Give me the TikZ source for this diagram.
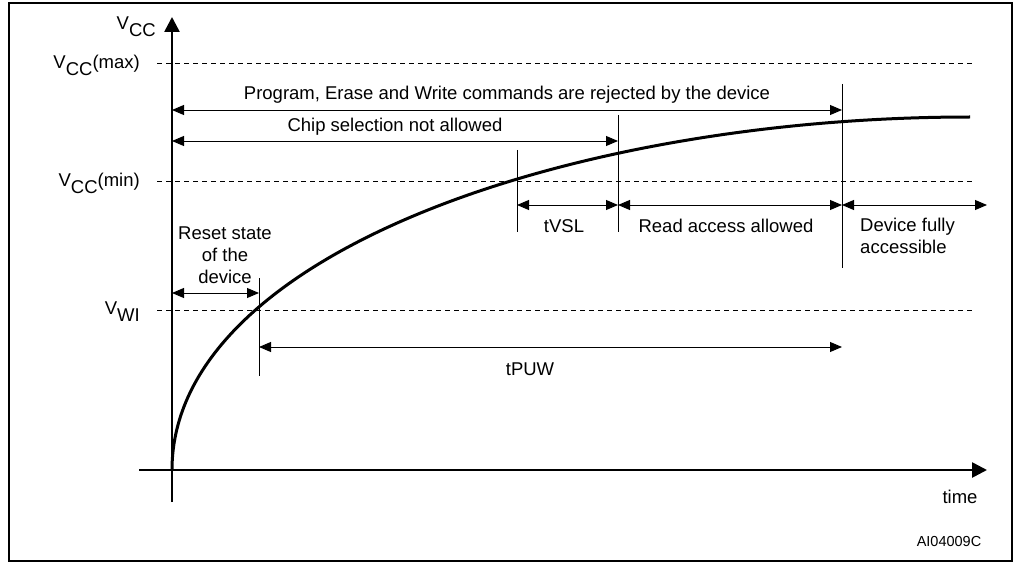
\documentclass[tikz,border=0pt]{standalone}
\usepackage{fontspec}
\setmainfont{Liberation Sans}
\usetikzlibrary{arrows.meta}
\begin{document}
\begin{tikzpicture}[x=1pt,y=-1pt,
  lbl/.style={font=\fontsize{18.5}{22}\selectfont, inner sep=0pt},
  dim/.style={line width=0.9pt, {Triangle[length=12pt,width=10pt]}-{Triangle[length=12pt,width=10pt]}},
  thin/.style={line width=0.9pt},
  lev/.style={line width=0.9pt, dash pattern=on 5pt off 4pt},
  axis/.style={line width=2.6pt, -{Triangle[length=15pt,width=15pt]}}]
\useasboundingbox (0,0) rectangle (1016,564);
\draw[line width=2pt] (9,3) rectangle (1012,561);
% coordinates
\coordinate (O) at (172,470);
\coordinate (ytop) at (172,17);
\coordinate (ybot) at (172,502);
\coordinate (xl) at (139,470);
\coordinate (xr) at (987,470);
\coordinate (cend) at (970,117);
\coordinate (a1) at (172,110); \coordinate (a1e) at (842,110);
\coordinate (a2) at (172,141); \coordinate (a2e) at (618,141);
% levels
\coordinate (mx1) at (157,63); \coordinate (mx2) at (975,63);
\coordinate (mn1) at (157,181); \coordinate (mn2) at (975,181);
\coordinate (wi1) at (157,310); \coordinate (wi2) at (975,310);
\draw[lev] (mx1) -- (mx2);
\draw[lev] (mn1) -- (mn2);
\draw[lev] (wi1) -- (wi2);
% vertical markers
\coordinate (v1t) at (259,278); \coordinate (v1b) at (259,376);
\coordinate (v2t) at (517,150); \coordinate (v2b) at (517,232);
\coordinate (v3t) at (618,115); \coordinate (v3b) at (618,232);
\coordinate (v4t) at (842,84); \coordinate (v4b) at (842,268);
\draw[thin] (v1t) -- (v1b);
\draw[thin] (v2t) -- (v2b);
\draw[thin] (v3t) -- (v3b);
\draw[thin] (v4t) -- (v4b);
% axes
\draw[axis] (ybot) -- (ytop);
\draw[axis] (xl) -- (xr);
% curve
\draw[line width=3pt] (O) .. controls (172,254) and (572,117) .. (cend);
% dimension arrows
\draw[dim] (a1) -- (a1e);
\draw[dim] (a2) -- (a2e);
\coordinate (r1) at (172,293); \coordinate (r2) at (259,293);
\draw[dim] (r1) -- (r2);
\coordinate (s1) at (517,205); \coordinate (s2) at (618,205);
\coordinate (s3) at (842,205); \coordinate (s4) at (987,205);
\draw[dim] (s1) -- (s2);
\draw[dim] (s2) -- (s3);
\draw[dim] (s3) -- (s4);
\coordinate (p1) at (259,347); \coordinate (p2) at (842,347);
\draw[dim] (p1) -- (p2);
% labels
\node[lbl] (tprog) at (507,95) {Program, Erase and Write commands are rejected by the device};
\node[lbl] (tchip) at (395,127) {Chip selection not allowed};
\node[lbl] (ttvsl) at (564,226) {tVSL};
\node[lbl] (tread) at (726,226) {Read access allowed};
\node[lbl, align=left, anchor=west] (tdev) at (860,236) {Device fully\\accessible};
\node[lbl, align=center] (treset) at (225,255) {Reset state\\of the\\device};
\node[lbl] (ttpuw) at (530,369) {tPUW};
\node[lbl] (ttime) at (960,497) {time};
\node[inner sep=0pt, font=\fontsize{14.5}{16}\selectfont] (tid) at (949,542) {AI04009C};
\node[lbl, anchor=east] (lvcc) at (156,27) {V\raisebox{-7pt}{CC}};
\node[lbl, anchor=east] (lmax) at (140,65) {V\raisebox{-7pt}{CC}(max)};
\node[lbl, anchor=east] (lmin) at (140,183) {V\raisebox{-7pt}{CC}(min)};
\node[lbl, anchor=east] (lwi) at (140,312) {V\raisebox{-7pt}{WI}};
\end{tikzpicture}
\end{document}
